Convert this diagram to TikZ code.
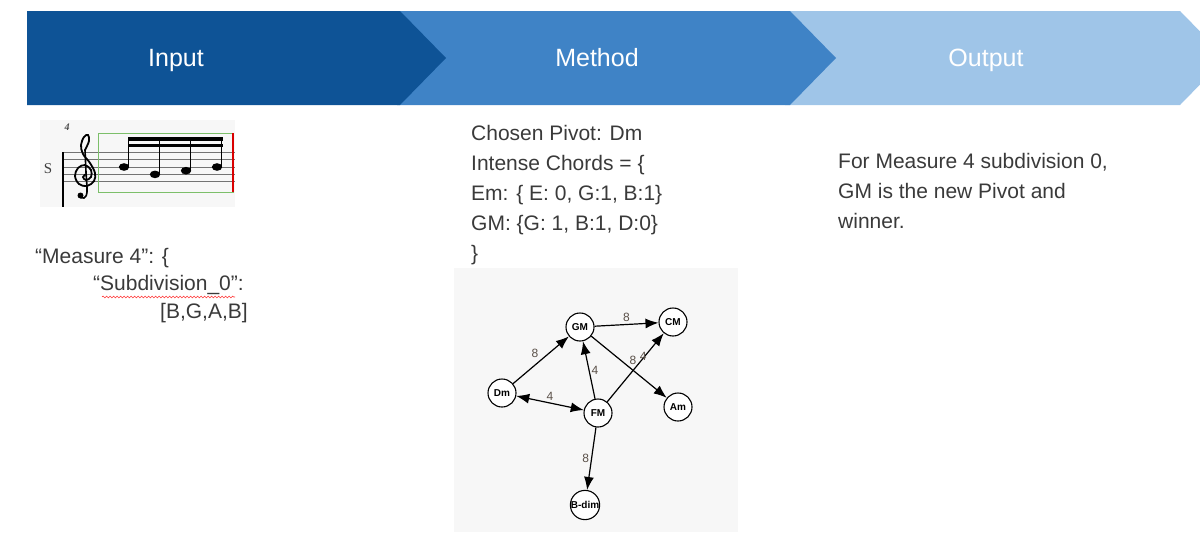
\documentclass[tikz,border=0pt]{standalone}
\usepackage{fontspec}
\setmainfont{Liberation Sans}
\newfontfamily\scorefont{Liberation Serif}
\usetikzlibrary{arrows.meta, positioning, decorations.pathmorphing}
\definecolor{inblue}{HTML}{0E5396}
\definecolor{methblue}{HTML}{3F83C6}
\definecolor{outblue}{HTML}{9FC5E8}
\definecolor{txtgray}{HTML}{3A3A3A}
\definecolor{panelgray}{HTML}{F7F7F7}
\definecolor{wtgray}{HTML}{5A5048}
\definecolor{boxgreen}{HTML}{7CBF6A}

\begin{document}
\begin{tikzpicture}[
  x=1pt, y=-1pt,
  head/.style={text=white, font=\fontsize{25}{28}\selectfont, anchor=base},
  body/.style={text=txtgray, font=\fontsize{21}{30}\selectfont, align=left,
               anchor=north west, inner sep=0pt},
  chord/.style={circle, draw=black, line width=1.1pt, fill=white, minimum size=28pt,
                inner sep=0pt, font=\fontsize{10}{11}\selectfont\bfseries},
  arr/.style={-{Latex[length=13pt, width=10pt]}, line width=1.2pt},
  wt/.style={font=\fontsize{12}{13}\selectfont, text=wtgray, inner sep=2pt},
  staffline/.style={black!55, line width=0.8pt},
]
  \useasboundingbox (0,0) rectangle (1200,533);
  \clip (0,0) rectangle (1200,533);

  \fill[outblue] (785,11) -- (1180,11) -- (1226,58) -- (1180,105) -- (785,105) -- cycle;
  \fill[methblue] (397,11) -- (790,11) -- (836,58) -- (790,105) -- (397,105) -- cycle;
  \fill[inblue] (27,11) -- (400,11) -- (446,58) -- (400,105) -- (27,105) -- cycle;
  \node[head] (inp) at (176,66) {Input};
  \node[head] (meth) at (597,66) {Method};
  \node[head] (outp) at (986,66) {Output};

  \fill[panelgray] (40,120) rectangle (235,207);
  \foreach \k in {0,...,4}
    \draw[staffline] (63,152.2+7.4*\k) -- (235,152.2+7.4*\k);
  \draw[line width=1.2pt] (63,152) -- (63,207);
  \node[font=\fontsize{10}{10}\selectfont\scorefont\bfseries\itshape, text=black!70] (mnum) at (67,127) {4};
  \node[font=\fontsize{15}{15}\selectfont\scorefont, text=black!75] (voice) at (48,169) {S};
  % treble clef
  \draw[line width=1.8pt, line cap=round] plot[smooth, tension=0.6] coordinates {
    (86,174) (83,177) (86,180) (91,177) (91,170) (85,165) (78,168) (75,176) (79,184)
    (87,186) (94,181) (95,173) (90,163) (83,154) (81,145) (84,137) (88,135) (89,141) (85,150)};
  \draw[line width=1.6pt, line cap=round] plot[smooth, tension=0.6] coordinates {
    (85,150) (86,172) (87,192) (84,198) (80,197)};
  \fill (80.5,195.5) circle (3);
  \draw[boxgreen, line width=1pt] (98,133) rectangle (233,192);
  \draw[red!85!black, line width=1.8pt] (233,133) -- (233,192);
  \foreach \nx/\ny in {124/167, 155/174.4, 186/170.7, 217/167} {
    \fill[black] (\nx,\ny) ellipse [x radius=5.2, y radius=3.8];
    \draw[line width=0.9pt] (\nx+4.8,\ny) -- (\nx+4.8,138);
  }
  \fill[black] (128,137) rectangle (222.5,140.5);
  \fill[black] (128,143.5) rectangle (222.5,147);

  \node[body] (meas) at (35,248) {``Measure 4'': \{};
  \node[body] (subd) at (93,275) {``Subdivision\_0'':};
  \node[body] (notes) at (160,303) {[B,G,A,B]};
  \draw[red!80, line width=0.6pt, decorate,
        decoration={snake, amplitude=0.9pt, segment length=3.5pt}] (102,297) -- (235,297);

  \node[body] (pivot) at (471,125) {Chosen Pivot: Dm\\Intense Chords = \{\\Em: \{ E: 0, G:1, B:1\}\\GM: \{G: 1, B:1, D:0\}\\\}};

  \node[body] (result) at (838,153) {For Measure 4 subdivision 0,\\GM is the new Pivot and\\winner.};

  \fill[panelgray] (454,268) rectangle (738,532);
  \node[chord] (GM) at (580,327) {GM};
  \node[chord] (CM) at (673,322) {CM};
  \node[chord] (Dm) at (502,393) {Dm};
  \node[chord] (FM) at (598,413) {FM};
  \node[chord] (Am) at (678,407) {Am};
  \node[chord] (Bdim) at (585,505) {B-dim};

  \draw[arr] (Dm) -- (GM) node[wt, midway, above left] {8};
  \draw[arr] (GM) -- (CM) node[wt, midway, above] {8};
  \draw[arr] (GM) -- (Am) node[wt, midway, above right=0pt and -2pt] {8};
  \draw[arr] (FM) -- (GM) node[wt, midway, right] {4};
  \draw[arr] (FM) -- (CM) node[wt, pos=0.6, above left=-2pt and -8pt] {4};
  \draw[{Latex[length=13pt, width=10pt]}-{Latex[length=13pt, width=10pt]}, line width=1.2pt]
    (Dm) -- (FM) node[wt, midway, above] {4};
  \draw[arr] (FM) -- (Bdim) node[wt, midway, left] {8};
\end{tikzpicture}
\end{document}
